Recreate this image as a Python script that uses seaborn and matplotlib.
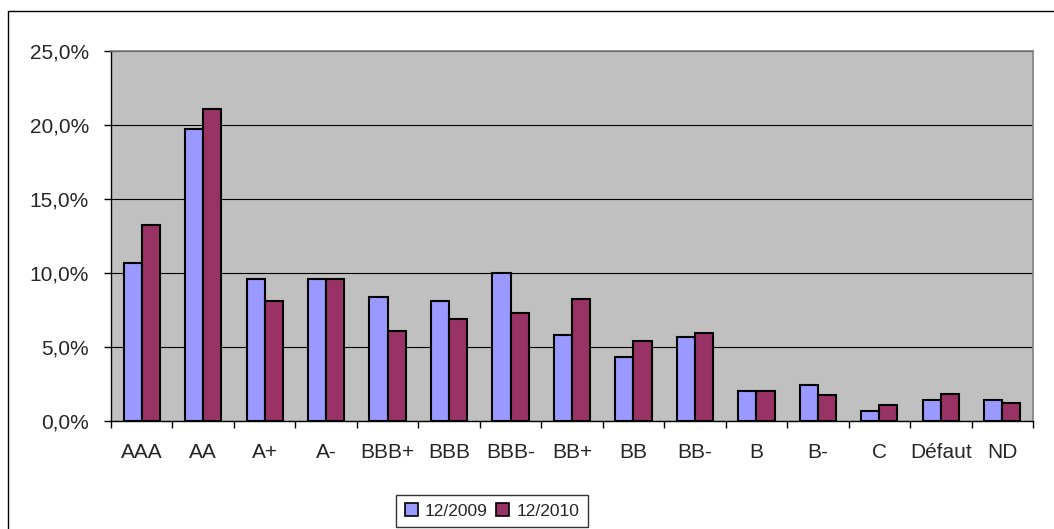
import matplotlib.pyplot as plt
import matplotlib.ticker as mticker
import numpy as np
import pandas as pd
import seaborn as sns

categories = ['AAA', 'AA', 'A+', 'A-', 'BBB+', 'BBB', 'BBB-', 'BB+', 'BB', 'BB-',
              'B', 'B-', 'C', 'Défaut', 'ND']
vals_2009 = [10.7, 19.75, 9.6, 9.6, 8.35, 8.1, 10.0, 5.8, 4.3, 5.65, 2.0, 2.4, 0.7, 1.45, 1.45]
vals_2010 = [13.25, 21.1, 8.1, 9.6, 6.05, 6.9, 7.3, 8.25, 5.4, 5.95, 2.0, 1.75, 1.05, 1.85, 1.2]
series = ['12/2009', '12/2010']
colors = ['#9999FF', '#993366']

df = pd.DataFrame({
    'rating': categories * 2,
    'value': vals_2009 + vals_2010,
    'period': [series[0]] * len(categories) + [series[1]] * len(categories),
})

sns.set_style('white')
plt.rcParams['font.family'] = ['Liberation Sans', 'DejaVu Sans']

fig = plt.figure(figsize=(10.54, 5.29), dpi=100)
ax = fig.add_axes([111 / 1054, 1 - 421 / 529, 922 / 1054, 370 / 529])
ax.set_facecolor('#C0C0C0')

sns.barplot(data=df, x='rating', y='value', hue='period', palette=colors,
            width=0.59, gap=0, edgecolor='black', linewidth=1.5,
            saturation=1, ax=ax, zorder=3)

ax.set_ylim(0, 25)
ax.set_xlim(-0.5, len(categories) - 0.5)
ax.set_yticks(np.arange(0, 26, 5))
ax.yaxis.set_major_formatter(mticker.FuncFormatter(lambda v, p: f'{v:.1f}%'.replace('.', ',')))
ax.grid(axis='y', color='black', linewidth=0.8, zorder=1)
ax.set_axisbelow(True)

# ticks between categories like the original
ax.set_xticks(np.arange(-0.5, len(categories), 1), minor=True)
ax.tick_params(axis='x', which='major', length=0, pad=16, labelsize=15)
ax.tick_params(axis='x', which='minor', length=5, width=1, color='black', direction='out', bottom=True)
ax.tick_params(axis='y', length=5, width=1, color='black', direction='out', left=True, pad=11, labelsize=15)
ax.set_xlabel('')
ax.set_ylabel('')

for side in ['left', 'bottom']:
    ax.spines[side].set_color('black')
    ax.spines[side].set_linewidth(1)
for side in ['top', 'right']:
    ax.spines[side].set_color('#808080')
    ax.spines[side].set_linewidth(1.2)

ax.legend_.remove()
handles = [plt.Rectangle((0, 0), 1, 1, facecolor=c, edgecolor='black', linewidth=1.2) for c in colors]
leg = fig.legend(handles, series, loc='center', bbox_to_anchor=(492 / 1054, 1 - 511 / 529),
                 ncol=2, frameon=True, fancybox=False, edgecolor='black', fontsize=12.5,
                 handlelength=0.75, handleheight=0.75, handletextpad=0.4, columnspacing=0.5,
                 borderpad=0.5)
leg.get_frame().set_linewidth(1)

# outer chart border (top and left visible)
fig.add_artist(plt.Line2D([8 / 1054, 8 / 1054], [0, 1 - 11 / 529], color='black', linewidth=1))
fig.add_artist(plt.Line2D([8 / 1054, 1], [1 - 11 / 529, 1 - 11 / 529], color='black', linewidth=1))

fig.savefig('out.png', dpi=100)
